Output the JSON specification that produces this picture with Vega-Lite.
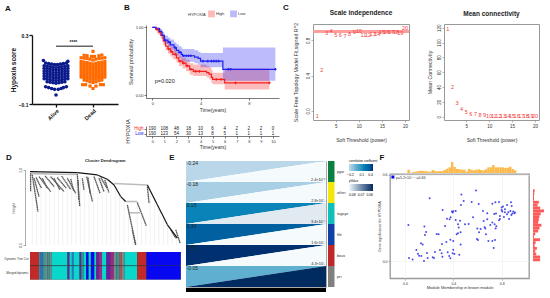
{"$schema":"https://vega.github.io/schema/vega-lite/v6.json","padding":0,"background":"white","bounds":"flush","spacing":0,"resolve":{"scale":{"color":"independent"},"legend":{"color":"independent"}},
"config":{"font":"Liberation Sans","view":{"stroke":null},"axis":{"grid":false,"labelFontSize":4.5,"titleFontSize":5,"titleFontWeight":"normal","tickSize":2,"tickWidth":0.6,"domainWidth":0.6,"labelPadding":1,"titlePadding":2,"labelColor":"#333","titleColor":"#333","labelOverlap":false,"labelFlush":false,"labelBound":false},"title":{"font":"Liberation Sans"}},
"datasets":{
"alive":[{"p":1.0,"s":-0.048},{"p":0.96,"s":-0.015},{"p":1.06,"s":-0.015},{"p":0.88,"s":-0.01},{"p":1.14,"s":-0.01},{"p":0.8,"s":-0.005},{"p":1.2,"s":-0.005},{"p":0.72,"s":0.0},{"p":1.28,"s":0.0},
{"p":0.76,"s":0.029},{"p":0.84,"s":0.026},{"p":0.92,"s":0.023},{"p":1.0,"s":0.02},{"p":1.08,"s":0.023},{"p":1.16,"s":0.026},{"p":1.24,"s":0.029},
{"p":0.68,"s":0.047},{"p":0.76,"s":0.044},{"p":0.84,"s":0.041},{"p":0.92,"s":0.038},{"p":1.0,"s":0.035},{"p":1.08,"s":0.038},{"p":1.16,"s":0.041},{"p":1.24,"s":0.044},{"p":1.32,"s":0.047},
{"p":0.68,"s":0.062},{"p":0.76,"s":0.059},{"p":0.84,"s":0.056},{"p":0.92,"s":0.053},{"p":1.0,"s":0.05},{"p":1.08,"s":0.053},{"p":1.16,"s":0.056},{"p":1.24,"s":0.059},{"p":1.32,"s":0.062},
{"p":0.68,"s":0.077},{"p":0.76,"s":0.074},{"p":0.84,"s":0.071},{"p":0.92,"s":0.068},{"p":1.0,"s":0.065},{"p":1.08,"s":0.068},{"p":1.16,"s":0.071},{"p":1.24,"s":0.074},{"p":1.32,"s":0.077},
{"p":0.68,"s":0.092},{"p":0.76,"s":0.089},{"p":0.84,"s":0.086},{"p":0.92,"s":0.083},{"p":1.0,"s":0.08},{"p":1.08,"s":0.083},{"p":1.16,"s":0.086},{"p":1.24,"s":0.089},{"p":1.32,"s":0.092},
{"p":0.68,"s":0.107},{"p":0.76,"s":0.104},{"p":0.84,"s":0.101},{"p":0.92,"s":0.098},{"p":1.0,"s":0.095},{"p":1.08,"s":0.098},{"p":1.16,"s":0.101},{"p":1.24,"s":0.104},{"p":1.32,"s":0.107},
{"p":0.68,"s":0.122},{"p":0.76,"s":0.119},{"p":0.84,"s":0.116},{"p":0.92,"s":0.113},{"p":1.0,"s":0.11},{"p":1.08,"s":0.113},{"p":1.16,"s":0.116},{"p":1.24,"s":0.119},{"p":1.32,"s":0.122},
{"p":0.72,"s":0.137},{"p":0.8,"s":0.134},{"p":0.88,"s":0.131},{"p":0.96,"s":0.128},{"p":1.04,"s":0.128},{"p":1.12,"s":0.131},{"p":1.2,"s":0.134},{"p":1.28,"s":0.137},{"p":1.32,"s":0.147},{"p":0.66,"s":0.152}],
"dead":[{"p":2.0,"s":-0.01},{"p":1.72,"s":0.012},{"p":1.8,"s":0.012},{"p":1.92,"s":0.004},{"p":2.08,"s":0.004},{"p":2.2,"s":0.012},{"p":2.28,"s":0.012},
{"p":1.76,"s":0.039},{"p":1.84,"s":0.035},{"p":1.92,"s":0.029},{"p":2.0,"s":0.025},{"p":2.08,"s":0.029},{"p":2.16,"s":0.035},{"p":2.24,"s":0.039},
{"p":1.68,"s":0.056},{"p":1.76,"s":0.053},{"p":1.84,"s":0.05},{"p":1.92,"s":0.046},{"p":2.0,"s":0.042},{"p":2.08,"s":0.046},{"p":2.16,"s":0.05},{"p":2.24,"s":0.053},{"p":2.32,"s":0.056},
{"p":1.68,"s":0.071},{"p":1.76,"s":0.068},{"p":1.84,"s":0.065},{"p":1.92,"s":0.061},{"p":2.0,"s":0.057},{"p":2.08,"s":0.061},{"p":2.16,"s":0.065},{"p":2.24,"s":0.068},{"p":2.32,"s":0.071},
{"p":1.68,"s":0.086},{"p":1.76,"s":0.083},{"p":1.84,"s":0.08},{"p":1.92,"s":0.076},{"p":2.0,"s":0.072},{"p":2.08,"s":0.076},{"p":2.16,"s":0.08},{"p":2.24,"s":0.083},{"p":2.32,"s":0.086},
{"p":1.68,"s":0.101},{"p":1.76,"s":0.098},{"p":1.84,"s":0.095},{"p":1.92,"s":0.091},{"p":2.0,"s":0.087},{"p":2.08,"s":0.091},{"p":2.16,"s":0.095},{"p":2.24,"s":0.098},{"p":2.32,"s":0.101},
{"p":1.68,"s":0.116},{"p":1.76,"s":0.113},{"p":1.84,"s":0.11},{"p":1.92,"s":0.106},{"p":2.0,"s":0.102},{"p":2.08,"s":0.106},{"p":2.16,"s":0.11},{"p":2.24,"s":0.113},{"p":2.32,"s":0.116},
{"p":1.68,"s":0.131},{"p":1.76,"s":0.128},{"p":1.84,"s":0.125},{"p":1.92,"s":0.121},{"p":2.0,"s":0.117},{"p":2.08,"s":0.121},{"p":2.16,"s":0.125},{"p":2.24,"s":0.128},{"p":2.32,"s":0.131},
{"p":1.68,"s":0.146},{"p":1.76,"s":0.143},{"p":1.84,"s":0.14},{"p":1.92,"s":0.136},{"p":2.0,"s":0.132},{"p":2.08,"s":0.136},{"p":2.16,"s":0.14},{"p":2.24,"s":0.143},{"p":2.32,"s":0.146},
{"p":1.68,"s":0.168},{"p":1.76,"s":0.166},{"p":1.84,"s":0.164},{"p":1.92,"s":0.16},{"p":2.0,"s":0.155},{"p":2.08,"s":0.16},{"p":2.16,"s":0.164},{"p":2.24,"s":0.166},{"p":2.32,"s":0.168},
{"p":1.76,"s":0.182},{"p":1.84,"s":0.18},{"p":2.16,"s":0.18},{"p":2.24,"s":0.184},{"p":1.96,"s":0.176},{"p":2.04,"s":0.176},{"p":2.0,"s":0.205}],
"surv":[{"g":"High","t":0,"s":1,"lo":1,"hi":1},{"g":"High","t":0.3,"s":0.97,"lo":0.95,"hi":1},{"g":"High","t":0.5,"s":0.93,"lo":0.89,"hi":0.97},{"g":"High","t":0.7,"s":0.88,"lo":0.83,"hi":0.93},{"g":"High","t":0.9,"s":0.8,"lo":0.74,"hi":0.87},{"g":"High","t":1.1,"s":0.72,"lo":0.66,"hi":0.8},{"g":"High","t":1.3,"s":0.68,"lo":0.61,"hi":0.76},{"g":"High","t":1.5,"s":0.64,"lo":0.57,"hi":0.72},{"g":"High","t":1.7,"s":0.6,"lo":0.53,"hi":0.68},{"g":"High","t":2,"s":0.55,"lo":0.48,"hi":0.63},{"g":"High","t":2.2,"s":0.5,"lo":0.43,"hi":0.58},{"g":"High","t":2.5,"s":0.47,"lo":0.39,"hi":0.55},{"g":"High","t":2.8,"s":0.43,"lo":0.35,"hi":0.52},{"g":"High","t":3.1,"s":0.38,"lo":0.3,"hi":0.47},{"g":"High","t":3.4,"s":0.35,"lo":0.28,"hi":0.45},{"g":"High","t":4.5,"s":0.33,"lo":0.26,"hi":0.43},{"g":"High","t":4.7,"s":0.31,"lo":0.23,"hi":0.41},{"g":"High","t":4.9,"s":0.26,"lo":0.18,"hi":0.37},{"g":"High","t":5,"s":0.23,"lo":0.16,"hi":0.33},{"g":"High","t":6,"s":0.18,"lo":0.08,"hi":0.39},{"g":"High","t":9.7,"s":0.18,"lo":0.08,"hi":0.39},
{"g":"Low","t":0,"s":1,"lo":1,"hi":1},{"g":"Low","t":0.3,"s":0.98,"lo":0.96,"hi":1},{"g":"Low","t":0.6,"s":0.94,"lo":0.91,"hi":0.98},{"g":"Low","t":0.8,"s":0.88,"lo":0.83,"hi":0.93},{"g":"Low","t":1,"s":0.81,"lo":0.75,"hi":0.88},{"g":"Low","t":1.3,"s":0.78,"lo":0.71,"hi":0.85},{"g":"Low","t":1.5,"s":0.74,"lo":0.67,"hi":0.82},{"g":"Low","t":1.8,"s":0.7,"lo":0.62,"hi":0.78},{"g":"Low","t":2,"s":0.66,"lo":0.58,"hi":0.75},{"g":"Low","t":2.2,"s":0.63,"lo":0.55,"hi":0.72},{"g":"Low","t":2.4,"s":0.6,"lo":0.51,"hi":0.7},{"g":"Low","t":2.5,"s":0.58,"lo":0.49,"hi":0.68},{"g":"Low","t":3.5,"s":0.56,"lo":0.47,"hi":0.66},{"g":"Low","t":3.8,"s":0.54,"lo":0.45,"hi":0.64},{"g":"Low","t":4,"s":0.5,"lo":0.41,"hi":0.62},{"g":"Low","t":5.85,"s":0.38,"lo":0.21,"hi":0.7},{"g":"Low","t":10.2,"s":0.38,"lo":0.21,"hi":0.7}],
"censor":[{"g":"High","t":0.4,"s":0.97},{"g":"High","t":1.35,"s":0.68},{"g":"High","t":1.6,"s":0.64},{"g":"High","t":1.9,"s":0.6},{"g":"High","t":2.3,"s":0.5},{"g":"High","t":2.6,"s":0.47},{"g":"High","t":2.9,"s":0.43},{"g":"High","t":3.2,"s":0.38},{"g":"High","t":3.6,"s":0.35},{"g":"High","t":3.9,"s":0.35},{"g":"High","t":5.3,"s":0.23},{"g":"High","t":5.7,"s":0.23},{"g":"High","t":6.9,"s":0.18},{"g":"High","t":9.7,"s":0.18},
{"g":"Low","t":1.05,"s":0.81},{"g":"Low","t":1.4,"s":0.78},{"g":"Low","t":1.9,"s":0.7},{"g":"Low","t":2.3,"s":0.63},{"g":"Low","t":2.6,"s":0.58},{"g":"Low","t":2.8,"s":0.58},{"g":"Low","t":3,"s":0.58},{"g":"Low","t":3.2,"s":0.58},{"g":"Low","t":4.2,"s":0.5},{"g":"Low","t":4.6,"s":0.5},{"g":"Low","t":4.9,"s":0.5},{"g":"Low","t":5.1,"s":0.5},{"g":"Low","t":5.3,"s":0.5},{"g":"Low","t":5.5,"s":0.5},{"g":"Low","t":6.3,"s":0.38},{"g":"Low","t":6.5,"s":0.38},{"g":"Low","t":10.2,"s":0.38}],
"risk":[{"g":"High","t":0,"n":190},{"g":"High","t":1,"n":108},{"g":"High","t":2,"n":48},{"g":"High","t":3,"n":18},{"g":"High","t":4,"n":10},{"g":"High","t":5,"n":6},{"g":"High","t":6,"n":4},{"g":"High","t":7,"n":2},{"g":"High","t":8,"n":2},{"g":"High","t":9,"n":2},{"g":"High","t":10,"n":0},
{"g":"Low","t":0,"n":190},{"g":"Low","t":1,"n":123},{"g":"Low","t":2,"n":54},{"g":"Low","t":3,"n":30},{"g":"Low","t":4,"n":13},{"g":"Low","t":5,"n":8},{"g":"Low","t":6,"n":5},{"g":"Low","t":7,"n":1},{"g":"Low","t":8,"n":1},{"g":"Low","t":9,"n":1},{"g":"Low","t":10,"n":1}],
"power":[{"k":"1","p":1,"r":-0.057,"c":118},{"k":"2","p":2,"r":0.46,"c":40},{"k":"3","p":3,"r":0.879,"c":18},{"k":"4","p":4,"r":0.906,"c":10},{"k":"5","p":5,"r":0.864,"c":6},{"k":"6","p":6,"r":0.86,"c":4},{"k":"7","p":7,"r":0.852,"c":3},{"k":"8","p":8,"r":0.87,"c":2.5},{"k":"9","p":9,"r":0.898,"c":2},{"k":"10","p":10,"r":0.902,"c":1.6},{"k":"11","p":11,"r":0.864,"c":1.3},{"k":"12","p":12,"r":0.856,"c":1.1},{"k":"13","p":13,"r":0.875,"c":0.9},{"k":"14","p":14,"r":0.875,"c":0.8},{"k":"15","p":15,"r":0.89,"c":0.7},{"k":"16","p":16,"r":0.897,"c":0.6},{"k":"17","p":17,"r":0.897,"c":0.5},{"k":"18","p":18,"r":0.89,"c":0.45},{"k":"19","p":19,"r":0.885,"c":0.4},{"k":"20","p":20,"r":0.943,"c":0.3}],
"dendro":[{"kind":"ridge","a":0,"b":31.4,"h":0.989,"h2":0.982},{"kind":"ridge","a":31.4,"b":44.7,"h":0.982,"h2":0.967},{"kind":"ridge","a":44.7,"b":51.3,"h":0.967,"h2":0.938},{"kind":"ridge","a":51.3,"b":55.8,"h":0.938,"h2":0.9},{"kind":"ridge","a":55.8,"b":60.2,"h":0.9,"h2":0.823},{"kind":"ridge","a":60.2,"b":63.5,"h":0.823,"h2":0.79},{"kind":"ridge","a":77.9,"b":84.5,"h":0.9,"h2":0.768},{"kind":"ridge","a":84.5,"b":91.2,"h":0.768,"h2":0.635},{"kind":"ridge","a":91.2,"b":97.8,"h":0.635,"h2":0.546},
{"kind":"band","a":0.5,"b":31,"h":0.976,"h2":0.97},{"kind":"band","a":55.8,"b":77.9,"h":0.91,"h2":0.9},{"kind":"band","a":63.5,"b":71.2,"h":0.79,"h2":0.79},{"kind":"band","a":66,"b":73,"h":0.715,"h2":0.715},
{"kind":"streak","a":0.4,"b":0.4,"h":0.978,"h2":0.856},{"kind":"streak","a":1.5,"b":5.3,"h":0.967,"h2":0.723},{"kind":"streak","a":2.7,"b":6,"h":0.945,"h2":0.823},{"kind":"streak","a":6,"b":13.7,"h":0.956,"h2":0.856},{"kind":"streak","a":8.2,"b":11.5,"h":0.945,"h2":0.878},{"kind":"streak","a":13.7,"b":22.6,"h":0.956,"h2":0.856},{"kind":"streak","a":15.9,"b":19.9,"h":0.945,"h2":0.867},{"kind":"streak","a":24.8,"b":30.3,"h":0.945,"h2":0.845},{"kind":"streak","a":31.4,"b":33,"h":0.973,"h2":0.757},{"kind":"streak","a":31.9,"b":32.3,"h":0.934,"h2":0.8},{"kind":"streak","a":34.7,"b":35.8,"h":0.945,"h2":0.867},{"kind":"streak","a":37.6,"b":41.4,"h":0.956,"h2":0.79},{"kind":"streak","a":42.5,"b":46.5,"h":0.956,"h2":0.845},{"kind":"streak","a":45.8,"b":49.1,"h":0.945,"h2":0.856},{"kind":"streak","a":49.6,"b":52.4,"h":0.934,"h2":0.85},{"kind":"streak","a":64.6,"b":70.1,"h":0.768,"h2":0.502},{"kind":"streak","a":67.9,"b":70.1,"h":0.602,"h2":0.502},{"kind":"streak","a":71.2,"b":77.2,"h":0.783,"h2":0.628},{"kind":"streak","a":77.9,"b":79,"h":0.889,"h2":0.779},{"kind":"streak","a":93.4,"b":96.7,"h":0.602,"h2":0.546},{"kind":"streak","a":96.7,"b":99.6,"h":0.602,"h2":0.513},
{"kind":"streak","a":4,"b":7.5,"h":0.95,"h2":0.88},{"kind":"streak","a":10,"b":16,"h":0.96,"h2":0.89},{"kind":"streak","a":18,"b":24,"h":0.95,"h2":0.88},{"kind":"streak","a":21,"b":27,"h":0.96,"h2":0.87},{"kind":"streak","a":27,"b":29,"h":0.94,"h2":0.86},{"kind":"streak","a":38.5,"b":40,"h":0.95,"h2":0.84},{"kind":"streak","a":47,"b":51,"h":0.95,"h2":0.88},
{"kind":"guide","a":1.5,"b":1.5,"h":0.5,"h2":0.96},{"kind":"guide","a":4.4,"b":4.4,"h":0.5,"h2":0.96},{"kind":"guide","a":7.3,"b":7.3,"h":0.5,"h2":0.96},{"kind":"guide","a":10.2,"b":10.2,"h":0.5,"h2":0.96},{"kind":"guide","a":13.1,"b":13.1,"h":0.5,"h2":0.96},{"kind":"guide","a":16,"b":16,"h":0.5,"h2":0.96},{"kind":"guide","a":18.9,"b":18.9,"h":0.5,"h2":0.96},{"kind":"guide","a":21.8,"b":21.8,"h":0.5,"h2":0.96},{"kind":"guide","a":24.7,"b":24.7,"h":0.5,"h2":0.96},{"kind":"guide","a":27.6,"b":27.6,"h":0.5,"h2":0.96},{"kind":"guide","a":30.5,"b":30.5,"h":0.5,"h2":0.96},{"kind":"guide","a":33.4,"b":33.4,"h":0.5,"h2":0.96},{"kind":"guide","a":36.3,"b":36.3,"h":0.5,"h2":0.96},{"kind":"guide","a":39.2,"b":39.2,"h":0.5,"h2":0.96},{"kind":"guide","a":42.1,"b":42.1,"h":0.5,"h2":0.96},{"kind":"guide","a":45,"b":45,"h":0.5,"h2":0.95},{"kind":"guide","a":47.9,"b":47.9,"h":0.5,"h2":0.94},{"kind":"guide","a":50.8,"b":50.8,"h":0.5,"h2":0.93},{"kind":"guide","a":53.7,"b":53.7,"h":0.5,"h2":0.91},{"kind":"guide","a":56.6,"b":56.6,"h":0.5,"h2":0.88},{"kind":"guide","a":59.5,"b":59.5,"h":0.5,"h2":0.83},{"kind":"guide","a":62.4,"b":62.4,"h":0.5,"h2":0.8},{"kind":"guide","a":65.3,"b":65.3,"h":0.5,"h2":0.74},{"kind":"guide","a":68.2,"b":68.2,"h":0.5,"h2":0.6},{"kind":"guide","a":71.1,"b":71.1,"h":0.5,"h2":0.78},{"kind":"guide","a":74,"b":74,"h":0.5,"h2":0.71},{"kind":"guide","a":76.9,"b":76.9,"h":0.5,"h2":0.63},{"kind":"guide","a":79.8,"b":79.8,"h":0.5,"h2":0.85},{"kind":"guide","a":82.7,"b":82.7,"h":0.5,"h2":0.8},{"kind":"guide","a":85.6,"b":85.6,"h":0.5,"h2":0.74},{"kind":"guide","a":88.5,"b":88.5,"h":0.5,"h2":0.69},{"kind":"guide","a":91.4,"b":91.4,"h":0.5,"h2":0.63},{"kind":"guide","a":94.3,"b":94.3,"h":0.5,"h2":0.6},{"kind":"guide","a":97.2,"b":97.2,"h":0.5,"h2":0.56}],
"modsegs":[{"a":0,"b":6,"m":"red"},{"a":6,"b":7.1,"m":"teal"},{"a":7.1,"b":8.4,"m":"steelblue"},{"a":8.4,"b":10,"m":"teal"},{"a":10,"b":11.5,"m":"grey"},{"a":11.5,"b":12.9,"m":"teal"},{"a":12.9,"b":14.4,"m":"grey"},{"a":14.4,"b":24.9,"m":"turquoise"},{"a":24.9,"b":26.2,"m":"purple"},{"a":26.2,"b":27.8,"m":"turquoise"},{"a":27.8,"b":28.9,"m":"steelblue"},{"a":28.9,"b":32.9,"m":"turquoise"},{"a":32.9,"b":34,"m":"purple"},{"a":34,"b":35.6,"m":"teal"},{"a":35.6,"b":37.3,"m":"turquoise"},{"a":37.3,"b":38.9,"m":"blue"},{"a":38.9,"b":40.4,"m":"turquoise"},{"a":40.4,"b":42.7,"m":"blue"},{"a":42.7,"b":44,"m":"turquoise"},{"a":44,"b":45.6,"m":"purple"},{"a":45.6,"b":47.8,"m":"plum"},{"a":47.8,"b":50.7,"m":"turquoise"},{"a":50.7,"b":53.3,"m":"purple"},{"a":53.3,"b":55.6,"m":"plum"},{"a":55.6,"b":57.3,"m":"grey"},{"a":57.3,"b":59.1,"m":"teal"},{"a":59.1,"b":60.7,"m":"rust"},{"a":60.7,"b":62.7,"m":"grey"},{"a":62.7,"b":71.1,"m":"turquoise"},{"a":71.1,"b":77.3,"m":"red"},{"a":77.3,"b":100,"m":"blue"}],
"eAreas":[{"row":0,"xp":0,"a":0,"b":1,"cor":-0.24},{"row":0,"xp":1,"a":0,"b":0,"cor":-0.24},{"row":1,"xp":0,"a":1,"b":2,"cor":-0.18},{"row":1,"xp":1,"a":1,"b":1,"cor":-0.18},{"row":2,"xp":0,"a":2,"b":3,"cor":0.15},{"row":2,"xp":1,"a":2,"b":2,"cor":0.15},{"row":3,"xp":0,"a":3,"b":4,"cor":0.3},{"row":3,"xp":1,"a":3,"b":3,"cor":0.3},{"row":4,"xp":0,"a":4,"b":5,"cor":0.4},{"row":4,"xp":1,"a":4,"b":4,"cor":0.4},{"row":5,"xp":0,"a":5,"b":6,"cor":-0.05},{"row":5,"xp":1,"a":5,"b":5,"cor":-0.05}],
"eLower":[{"row":0,"xp":0,"a":1,"b":1,"q":0.08},{"row":0,"xp":1,"a":0,"b":1,"q":0.08},{"row":1,"xp":0,"a":2,"b":2,"q":0.08},{"row":1,"xp":1,"a":1,"b":2,"q":0.08},{"row":2,"xp":0,"a":3,"b":3,"q":0.0785},{"row":2,"xp":1,"a":2,"b":3,"q":0.0785},{"row":3,"xp":0,"a":4,"b":4,"q":0.08},{"row":3,"xp":1,"a":3,"b":4,"q":0.08},{"row":4,"xp":0,"a":5,"b":5,"q":0.08},{"row":4,"xp":1,"a":4,"b":5,"q":0.08},{"row":5,"xp":0,"a":6,"b":6,"q":0.06},{"row":5,"xp":1,"a":5,"b":6,"q":0.06}],
"eLabels":[{"xl":0.005,"yl":0.1,"xr":0.995,"yr":0.9,"c":"-0.24","p":"2.4×10⁻⁸"},{"xl":0.005,"yl":1.1,"xr":0.995,"yr":1.9,"c":"-0.18","p":"2.8×10⁻³"},{"xl":0.005,"yl":2.1,"xr":0.995,"yr":2.9,"c":"0.15","p":"3.4×10⁻⁵"},{"xl":0.005,"yl":3.1,"xr":0.995,"yr":3.9,"c":"0.30","p":"1.6×10⁻³"},{"xl":0.005,"yl":4.1,"xr":0.995,"yr":4.9,"c":"0.40","p":"4.3×10⁻³"},{"xl":0.005,"yl":5.1,"xr":0.995,"yr":5.9,"c":"-0.05","p":"4.40"}],
"eMods":[{"m":"pgw"},{"m":"other"},{"m":"tagoye"},{"m":"file"},{"m":"bous"},{"m":"prr"}],
"scatter":[{"x":0.028,"y":0.252},{"x":0.204,"y":0.438},{"x":0.16,"y":0.241},{"x":0.174,"y":0.204},{"x":0.132,"y":0.125},{"x":0.146,"y":0.116},{"x":0.094,"y":0.079},{"x":0.107,"y":0.053},{"x":0.033,"y":0.023},{"x":0.063,"y":0.012},{"x":0.116,"y":0.039},{"x":0.135,"y":0.037},{"x":0.157,"y":0.002},{"x":0.182,"y":0.058},{"x":0.187,"y":0.023},{"x":0.229,"y":0.028},{"x":0.24,"y":0.023},{"x":0.248,"y":0.065},{"x":0.262,"y":0.19},{"x":0.278,"y":0.188},{"x":0.306,"y":0.12},{"x":0.289,"y":0.079},{"x":0.303,"y":0.056},{"x":0.309,"y":0.032},{"x":0.342,"y":0.134},{"x":0.375,"y":0.15},{"x":0.353,"y":0.063},{"x":0.366,"y":0.037},{"x":0.375,"y":0.021},{"x":0.399,"y":0.081},{"x":0.399,"y":0.141},{"x":0.394,"y":0.056},{"x":0.408,"y":0.051},{"x":0.449,"y":0.046},{"x":0.46,"y":0.116},{"x":0.427,"y":0.188},{"x":0.438,"y":0.194},{"x":0.331,"y":0.245},{"x":0.347,"y":0.296},{"x":0.369,"y":0.292},{"x":0.311,"y":0.356},{"x":0.388,"y":0.345},{"x":0.399,"y":0.347},{"x":0.419,"y":0.35},{"x":0.377,"y":0.306},{"x":0.419,"y":0.287},{"x":0.438,"y":0.257},{"x":0.444,"y":0.234},{"x":0.455,"y":0.282},{"x":0.463,"y":0.391},{"x":0.466,"y":0.463},{"x":0.485,"y":0.419},{"x":0.496,"y":0.257},{"x":0.526,"y":0.259},{"x":0.562,"y":0.306},{"x":0.551,"y":0.412},{"x":0.587,"y":0.491},{"x":0.609,"y":0.398},{"x":0.645,"y":0.35},{"x":0.598,"y":0.227},{"x":0.595,"y":0.155},{"x":0.603,"y":0.148},{"x":0.612,"y":0.201},{"x":0.625,"y":0.225},{"x":0.658,"y":0.236},{"x":0.65,"y":0.28},{"x":0.68,"y":0.333},{"x":0.68,"y":0.292},{"x":0.722,"y":0.4},{"x":0.747,"y":0.41},{"x":0.777,"y":0.412},{"x":0.752,"y":0.331},{"x":0.738,"y":0.329},{"x":0.722,"y":0.269},{"x":0.741,"y":0.257},{"x":0.755,"y":0.243},{"x":0.749,"y":0.227},{"x":0.785,"y":0.294},{"x":0.777,"y":0.285},{"x":0.799,"y":0.373},{"x":0.81,"y":0.38},{"x":0.804,"y":0.345},{"x":0.785,"y":0.315},{"x":0.818,"y":0.308},{"x":0.826,"y":0.34},{"x":0.843,"y":0.326},{"x":0.854,"y":0.34},{"x":0.876,"y":0.41},{"x":0.882,"y":0.384},{"x":0.871,"y":0.35},{"x":0.895,"y":0.345},{"x":0.909,"y":0.338},{"x":0.904,"y":0.333},{"x":0.887,"y":0.331},{"x":0.879,"y":0.322},{"x":0.86,"y":0.294},{"x":0.826,"y":0.361},{"x":0.799,"y":0.356},{"x":0.843,"y":0.391},{"x":0.733,"y":0.093},{"x":0.744,"y":0.148},{"x":0.722,"y":0.141},{"x":0.689,"y":0.141},{"x":0.664,"y":0.227},{"x":0.705,"y":0.252},{"x":0.669,"y":0.188},{"x":0.46,"y":0.201},{"x":0.394,"y":0.338},{"x":0.165,"y":0.183}],
"histX":[{"a":0.02,"b":0.04,"n":10},{"a":0.04,"b":0.06,"n":1},{"a":0.06,"b":0.08,"n":3},{"a":0.08,"b":0.1,"n":4},{"a":0.1,"b":0.12,"n":6},{"a":0.12,"b":0.14,"n":7},{"a":0.14,"b":0.16,"n":6},{"a":0.16,"b":0.18,"n":6},{"a":0.18,"b":0.2,"n":4},{"a":0.2,"b":0.22,"n":4},{"a":0.22,"b":0.24,"n":9},{"a":0.24,"b":0.26,"n":6},{"a":0.26,"b":0.28,"n":5},{"a":0.28,"b":0.3,"n":6},{"a":0.3,"b":0.32,"n":6},{"a":0.32,"b":0.34,"n":9},{"a":0.34,"b":0.36,"n":13},{"a":0.36,"b":0.38,"n":17},{"a":0.38,"b":0.4,"n":33},{"a":0.4,"b":0.42,"n":18},{"a":0.42,"b":0.44,"n":12},{"a":0.44,"b":0.46,"n":12},{"a":0.46,"b":0.48,"n":10},{"a":0.48,"b":0.5,"n":10},{"a":0.5,"b":0.52,"n":4},{"a":0.52,"b":0.54,"n":12},{"a":0.54,"b":0.56,"n":10},{"a":0.56,"b":0.58,"n":8},{"a":0.58,"b":0.6,"n":10},{"a":0.6,"b":0.62,"n":11},{"a":0.62,"b":0.64,"n":9},{"a":0.64,"b":0.66,"n":8},{"a":0.66,"b":0.68,"n":11},{"a":0.68,"b":0.7,"n":17},{"a":0.7,"b":0.72,"n":17},{"a":0.72,"b":0.74,"n":24},{"a":0.74,"b":0.76,"n":17},{"a":0.76,"b":0.78,"n":17},{"a":0.78,"b":0.8,"n":17},{"a":0.8,"b":0.82,"n":17},{"a":0.82,"b":0.84,"n":15},{"a":0.84,"b":0.86,"n":16},{"a":0.86,"b":0.88,"n":19},{"a":0.88,"b":0.9,"n":12},{"a":0.9,"b":0.92,"n":8}],
"histY":[{"a":0,"b":0.02,"n":22},{"a":0.02,"b":0.04,"n":22},{"a":0.04,"b":0.06,"n":10},{"a":0.06,"b":0.08,"n":7},{"a":0.08,"b":0.1,"n":12},{"a":0.1,"b":0.12,"n":5},{"a":0.12,"b":0.14,"n":8},{"a":0.14,"b":0.16,"n":22},{"a":0.16,"b":0.18,"n":3},{"a":0.18,"b":0.2,"n":7},{"a":0.2,"b":0.22,"n":16},{"a":0.22,"b":0.24,"n":20},{"a":0.24,"b":0.26,"n":26},{"a":0.26,"b":0.28,"n":16},{"a":0.28,"b":0.3,"n":18},{"a":0.3,"b":0.32,"n":20},{"a":0.32,"b":0.34,"n":24},{"a":0.34,"b":0.36,"n":34},{"a":0.36,"b":0.38,"n":22},{"a":0.38,"b":0.4,"n":14},{"a":0.4,"b":0.42,"n":18},{"a":0.42,"b":0.44,"n":3},{"a":0.44,"b":0.46,"n":3},{"a":0.46,"b":0.48,"n":4},{"a":0.48,"b":0.5,"n":5}]
},
"hconcat":[
{"bounds":"flush","spacing":0,"vconcat":[{"width":1,"height":4,"data":{"values":[]},"mark":"point","encoding":{}},{"bounds":"flush","spacing":0,"hconcat":[{"width":3,"height":1,"data":{"values":[]},"mark":"point","encoding":{}},{"width":10,"height":10,"data":{"values":[{"l":"A"}]},"mark":{"type":"text","fontWeight":"bold","fontSize":8,"color":"#111"},"encoding":{"text":{"field":"l"}}}]}]},
{"bounds":"flush","spacing":0,"vconcat":[{"width":1,"height":3,"data":{"values":[]},"mark":"point","encoding":{}},{"bounds":"flush","spacing":0,"hconcat":[{"width":122,"height":1,"data":{"values":[]},"mark":"point","encoding":{}},{"width":10,"height":10,"data":{"values":[{"l":"B"}]},"mark":{"type":"text","fontWeight":"bold","fontSize":8,"color":"#111"},"encoding":{"text":{"field":"l"}}}]}]},
{"bounds":"flush","spacing":0,"vconcat":[{"width":1,"height":3,"data":{"values":[]},"mark":"point","encoding":{}},{"bounds":"flush","spacing":0,"hconcat":[{"width":281,"height":1,"data":{"values":[]},"mark":"point","encoding":{}},{"width":10,"height":10,"data":{"values":[{"l":"C"}]},"mark":{"type":"text","fontWeight":"bold","fontSize":8,"color":"#111"},"encoding":{"text":{"field":"l"}}}]}]},
{"bounds":"flush","spacing":0,"vconcat":[{"width":1,"height":153,"data":{"values":[]},"mark":"point","encoding":{}},{"bounds":"flush","spacing":0,"hconcat":[{"width":4,"height":1,"data":{"values":[]},"mark":"point","encoding":{}},{"width":10,"height":10,"data":{"values":[{"l":"D"}]},"mark":{"type":"text","fontWeight":"bold","fontSize":8,"color":"#111"},"encoding":{"text":{"field":"l"}}}]}]},
{"bounds":"flush","spacing":0,"vconcat":[{"width":1,"height":153,"data":{"values":[]},"mark":"point","encoding":{}},{"bounds":"flush","spacing":0,"hconcat":[{"width":167,"height":1,"data":{"values":[]},"mark":"point","encoding":{}},{"width":10,"height":10,"data":{"values":[{"l":"E"}]},"mark":{"type":"text","fontWeight":"bold","fontSize":8,"color":"#111"},"encoding":{"text":{"field":"l"}}}]}]},
{"bounds":"flush","spacing":0,"vconcat":[{"width":1,"height":153,"data":{"values":[]},"mark":"point","encoding":{}},{"bounds":"flush","spacing":0,"hconcat":[{"width":377,"height":1,"data":{"values":[]},"mark":"point","encoding":{}},{"width":10,"height":10,"data":{"values":[{"l":"F"}]},"mark":{"type":"text","fontWeight":"bold","fontSize":8,"color":"#111"},"encoding":{"text":{"field":"l"}}}]}]},

{"bounds":"flush","spacing":0,"vconcat":[{"width":1,"height":35,"data":{"values":[]},"mark":"point","encoding":{}},{"bounds":"flush","spacing":0,"hconcat":[{"width":32,"height":1,"data":{"values":[]},"mark":"point","encoding":{}},
{"width":86,"height":69,"layer":[
{"data":{"name":"alive"},"mark":{"type":"point","shape":"circle","filled":true,"size":13,"opacity":1,"color":"#0b1a8c"},"encoding":{"x":{"field":"p","type":"quantitative","scale":{"domain":[0.351,2.676],"nice":false},"axis":{"values":[1,2],"labelExpr":"datum.value==1?'Alive':'Dead'","labelAngle":-45,"labelAlign":"right","labelFontWeight":"bold","labelFontSize":5.5,"labelColor":"#111","title":null,"domainColor":"#111","tickColor":"#111","domainWidth":1.3,"tickWidth":1.3,"tickSize":3}},"y":{"field":"s","type":"quantitative","scale":{"domain":[-0.1,0.3],"nice":false},"axis":{"values":[-0.1,0,0.1,0.2,0.3],"format":".1f","labelFontWeight":"bold","labelFontSize":5,"labelColor":"#111","title":"Hypoxia score","titleFontWeight":"bold","titleFontSize":6.5,"titleColor":"#111","domainColor":"#111","tickColor":"#111","domainWidth":1.3,"tickWidth":1.3,"tickSize":3}}}},
{"data":{"name":"dead"},"mark":{"type":"point","shape":"square","filled":true,"size":10,"opacity":1,"color":"#ff6a00"},"encoding":{"x":{"field":"p","type":"quantitative"},"y":{"field":"s","type":"quantitative"}}},
{"data":{"values":[{"a":1.0,"b":2.0,"s":0.235}]},"mark":{"type":"rule","color":"#666","strokeWidth":1.4},"encoding":{"x":{"field":"a","type":"quantitative"},"x2":{"field":"b"},"y":{"field":"s","type":"quantitative"}}},
{"data":{"values":[{"a":1.47,"s":0.26,"t":"****"}]},"mark":{"type":"text","fontSize":5,"fontWeight":"bold","color":"#222"},"encoding":{"x":{"field":"a","type":"quantitative"},"y":{"field":"s","type":"quantitative"},"text":{"field":"t"}}}
]}]}]},

{"bounds":"flush","spacing":0,"vconcat":[{"width":1,"height":25,"data":{"values":[]},"mark":"point","encoding":{}},{"bounds":"flush","spacing":0,"hconcat":[{"width":146,"height":1,"data":{"values":[]},"mark":"point","encoding":{}},
{"width":133,"height":73,"layer":[
{"data":{"name":"surv"},"mark":{"type":"area","interpolate":"step-after","opacity":0.3},"encoding":{"x":{"field":"t","type":"quantitative","scale":{"domain":[-0.52,10.5],"nice":false},"axis":{"values":[0,1,2,3,4,5,6,7,8,9,10],"labelOverlap":false,"labelFontSize":4,"title":"Time(years)","domainColor":"#222","tickColor":"#222"}},"y":{"field":"lo","type":"quantitative","scale":{"domain":[-0.044,1.034],"nice":false},"axis":{"values":[0,0.25,0.5,0.75,1],"format":".2f","labelOverlap":false,"labelFontSize":4,"title":"Survival probability","titleFontSize":5.5,"domainColor":"#222","tickColor":"#222"}},"y2":{"field":"hi"},"color":{"field":"g","type":"nominal","scale":{"domain":["High","Low"],"range":["#f52020","#2020f0"]},"legend":{"orient":"none","legendX":188,"legendY":10,"direction":"horizontal","title":"HYPOXIA","titleOrient":"left","titleFontSize":4,"titleFontWeight":"normal","titlePadding":2,"labelFontSize":4,"labelOffset":1,"symbolType":"square","symbolSize":28,"columns":2,"columnPadding":2,"padding":0,"titleColor":"#333","labelColor":"#333"}}}},
{"data":{"name":"surv"},"mark":{"type":"line","interpolate":"step-after","strokeWidth":1.2},"encoding":{"x":{"field":"t","type":"quantitative"},"y":{"field":"s","type":"quantitative"},"color":{"field":"g","type":"nominal"}}},
{"data":{"name":"censor"},"mark":{"type":"point","shape":"cross","filled":true,"size":7,"opacity":1},"encoding":{"x":{"field":"t","type":"quantitative"},"y":{"field":"s","type":"quantitative"},"color":{"field":"g","type":"nominal"}}},
{"data":{"values":[{"t":0.2,"s":0.21,"l":"p=0.020"}]},"mark":{"type":"text","align":"left","fontSize":5.5,"color":"#222"},"encoding":{"x":{"field":"t","type":"quantitative"},"y":{"field":"s","type":"quantitative"},"text":{"field":"l"}}}
]}]}]},

{"bounds":"flush","spacing":0,"vconcat":[{"width":1,"height":125.7,"data":{"values":[]},"mark":"point","encoding":{}},{"bounds":"flush","spacing":0,"hconcat":[{"width":146,"height":1,"data":{"values":[]},"mark":"point","encoding":{}},
{"width":133,"height":10,"data":{"name":"risk"},"mark":{"type":"text","fontSize":4.5,"color":"#222"},"encoding":{"x":{"field":"t","type":"quantitative","scale":{"domain":[-0.52,10.5],"nice":false},"axis":{"values":[0,1,2,3,4,5,6,7,8,9,10],"labelFontSize":4,"title":"Time(years)","titlePadding":1,"domainColor":"#222","tickColor":"#222"}},"y":{"field":"g","type":"nominal","sort":["High","Low"],"axis":{"title":"HYPOXIA","titleFontSize":5.5,"titlePadding":3,"labelFontSize":4.5,"labelColor":{"expr":"datum.value=='High'?'#f02020':'#2020f0'"},"domainColor":"#222","tickColor":"#222"}},"text":{"field":"n","type":"quantitative"}}}]}]},

{"bounds":"flush","spacing":0,"vconcat":[{"width":1,"height":24,"data":{"values":[]},"mark":"point","encoding":{}},{"bounds":"flush","spacing":0,"hconcat":[{"width":313,"height":1,"data":{"values":[]},"mark":"point","encoding":{}},
{"width":96,"height":96,"view":{"stroke":"#999"},"title":{"text":"Scale independence","fontSize":6.5,"fontWeight":"bold","offset":6,"color":"#222"},"data":{"name":"power"},"layer":[
{"mark":{"type":"rule","color":"#ff9d9d","strokeWidth":1.8},"encoding":{"y":{"datum":0.9,"type":"quantitative"}}},
{"mark":{"type":"text","fontSize":5.5,"color":"#f04040"},"encoding":{"x":{"field":"p","type":"quantitative","scale":{"domain":[0.09,20.87],"nice":false},"axis":{"values":[5,10,15,20],"title":"Soft Threshold (power)","titlePadding":10,"domain":false,"tickColor":"#888"}},"y":{"field":"r","type":"quantitative","scale":{"domain":[-0.102,0.985],"nice":false},"axis":{"values":[0,0.2,0.4,0.6,0.8],"format":".1f","labelAngle":-90,"labelAlign":"center","labelBaseline":"bottom","title":"Scale Free Topology Model Fit,signed R^2","titleFontSize":5.3,"titlePadding":7,"domain":false,"tickColor":"#888"}},"text":{"field":"k"}}}
]}]}]},

{"bounds":"flush","spacing":0,"vconcat":[{"width":1,"height":24,"data":{"values":[]},"mark":"point","encoding":{}},{"bounds":"flush","spacing":0,"hconcat":[{"width":444,"height":1,"data":{"values":[]},"mark":"point","encoding":{}},
{"width":95,"height":96,"view":{"stroke":"#999"},"title":{"text":"Mean connectivity","fontSize":6.5,"fontWeight":"bold","offset":6,"color":"#222"},"data":{"name":"power"},"mark":{"type":"text","fontSize":5.5,"color":"#f04040"},"encoding":{"x":{"field":"p","type":"quantitative","scale":{"domain":[0.15,20.87],"nice":false},"axis":{"values":[5,10,15,20],"title":"Soft Threshold (power)","titlePadding":10,"domain":false,"tickColor":"#888"}},"y":{"field":"c","type":"quantitative","scale":{"domain":[-4.45,125],"nice":false},"axis":{"values":[0,20,40,60,80,100,120],"labelAngle":-90,"labelAlign":"center","labelBaseline":"bottom","title":"Mean Connectivity","titleFontSize":5.3,"titlePadding":4,"domain":false,"tickColor":"#888"}},"text":{"field":"k"}}}]}]},

{"bounds":"flush","spacing":0,"vconcat":[{"width":1,"height":170,"data":{"values":[]},"mark":"point","encoding":{}},{"bounds":"flush","spacing":0,"hconcat":[{"width":29.3,"height":1,"data":{"values":[]},"mark":"point","encoding":{}},
{"width":150.7,"height":75.5,"title":{"text":"Cluster Dendrogram","fontSize":4.2,"fontWeight":"bold","offset":4,"color":"#222"},"data":{"name":"dendro"},"layer":[
{"transform":[{"filter":"datum.kind=='guide'"}],"mark":{"type":"rule","color":"#e2e2e2","strokeWidth":0.5},"encoding":{"x":{"field":"a","type":"quantitative","scale":{"domain":[0,100],"nice":false},"axis":null},"x2":{"field":"b"},"y":{"field":"h","type":"quantitative","scale":{"domain":[0.497,1],"nice":false},"axis":{"values":[0.5,0.6,0.7,0.8,0.9,1],"format":".1f","labelOverlap":false,"labelAngle":-90,"labelAlign":"center","labelBaseline":"bottom","labelFontSize":3.6,"title":"Height","titleFontSize":3.6,"titlePadding":3,"offset":5,"domain":true,"domainColor":"#777","tickColor":"#777"}},"y2":{"field":"h2"}}},
{"transform":[{"filter":"datum.kind=='band'"}],"mark":{"type":"rule","color":"#bdbdbd","strokeWidth":1.6},"encoding":{"x":{"field":"a","type":"quantitative"},"x2":{"field":"b"},"y":{"field":"h","type":"quantitative"},"y2":{"field":"h2"}}},
{"transform":[{"filter":"datum.kind=='streak'"}],"mark":{"type":"rule","color":"#555","strokeWidth":1.3,"strokeDash":[1.5,0.3]},"encoding":{"x":{"field":"a","type":"quantitative"},"x2":{"field":"b"},"y":{"field":"h","type":"quantitative"},"y2":{"field":"h2"}}},
{"transform":[{"filter":"datum.kind=='ridge'"}],"mark":{"type":"rule","color":"#151515","strokeWidth":1.2},"encoding":{"x":{"field":"a","type":"quantitative"},"x2":{"field":"b"},"y":{"field":"h","type":"quantitative"},"y2":{"field":"h2"}}}
]}]}]},

{"bounds":"flush","spacing":0,"vconcat":[{"width":1,"height":251.7,"data":{"values":[]},"mark":"point","encoding":{}},{"bounds":"flush","spacing":0,"hconcat":[{"width":29.3,"height":1,"data":{"values":[]},"mark":"point","encoding":{}},
{"width":150.7,"height":27.5,"view":{"fill":"#333"},"data":{"name":"modsegs"},"layer":[
{"mark":"rect","encoding":{"x":{"field":"a","type":"quantitative","scale":{"domain":[0,100],"nice":false},"axis":null},"x2":{"field":"b"},"y":{"datum":"Dynamic Tree Cut","type":"nominal","scale":{"domain":["Dynamic Tree Cut","Merged dynamic"],"paddingInner":0.05,"paddingOuter":0},"axis":{"title":null,"ticks":false,"domain":false,"labelFontSize":3,"labelPadding":2}},"color":{"field":"m","type":"nominal","legend":null,"scale":{"domain":["red","teal","steelblue","grey","turquoise","purple","blue","plum","rust"],"range":["#c22a2a","#2a9a9a","#3a6ad8","#7a8a88","#08d8cc","#6a1fa0","#0808f0","#9a2a8a","#b05050"]}}}},
{"mark":"rect","encoding":{"x":{"field":"a","type":"quantitative"},"x2":{"field":"b"},"y":{"datum":"Merged dynamic","type":"nominal"},"color":{"field":"m","type":"nominal","legend":null}}}
]}]}]},

{"bounds":"flush","spacing":0,"vconcat":[{"width":1,"height":161,"data":{"values":[]},"mark":"point","encoding":{}},{"bounds":"flush","spacing":0,"hconcat":[{"width":186,"height":1,"data":{"values":[]},"mark":"point","encoding":{}},
{"width":140,"height":126,"view":{"stroke":"#aaa"},"resolve":{"scale":{"color":"independent"}},"layer":[
{"data":{"name":"eAreas"},"mark":{"type":"area"},"encoding":{"x":{"field":"xp","type":"quantitative","scale":{"domain":[0,1],"nice":false},"axis":null},"y":{"field":"a","type":"quantitative","scale":{"domain":[0,6],"reverse":true,"nice":false},"axis":null},"y2":{"field":"b"},"detail":{"field":"row"},"color":{"field":"cor","type":"quantitative","scale":{"domain":[-0.24,-0.18,-0.05,0.15,0.3,0.4],"range":["#bad7e9","#a8cfe4","#5fb0d0","#0a84b8","#0060a0","#003070"]},"legend":{"orient":"none","legendX":163,"legendY":-1,"direction":"horizontal","gradientLength":24,"gradientThickness":7,"title":"correlation coefficient","titleFontSize":3,"titleFontWeight":"normal","titlePadding":1,"labelFontSize":3.4,"values":[-0.2,0.1,0.4],"format":".1f"}}}},
{"data":{"name":"eLower"},"mark":{"type":"area"},"encoding":{"x":{"field":"xp","type":"quantitative"},"y":{"field":"a","type":"quantitative"},"y2":{"field":"b"},"detail":{"field":"row"},"color":{"field":"q","type":"quantitative","scale":{"domain":[0.08,0.06],"range":["#f5fafd","#002b60"]},"legend":{"orient":"none","legendX":163,"legendY":19,"direction":"horizontal","gradientLength":24,"gradientThickness":7,"title":"pValue","titleFontSize":3,"titleFontWeight":"normal","titlePadding":1,"labelFontSize":3.4,"values":[0.08,0.07,0.06],"format":".2f"}}}},
{"data":{"name":"eLabels"},"mark":{"type":"text","align":"left","fontSize":5,"color":"#222"},"encoding":{"x":{"field":"xl","type":"quantitative"},"y":{"field":"yl","type":"quantitative"},"text":{"field":"c"}}},
{"data":{"name":"eLabels"},"mark":{"type":"text","align":"right","fontSize":3.8,"color":"#222"},"encoding":{"x":{"field":"xr","type":"quantitative"},"y":{"field":"yr","type":"quantitative"},"text":{"field":"p"}}}
]}]}]},

{"bounds":"flush","spacing":0,"vconcat":[{"width":1,"height":161,"data":{"values":[]},"mark":"point","encoding":{}},{"bounds":"flush","spacing":0,"hconcat":[{"width":327.5,"height":1,"data":{"values":[]},"mark":"point","encoding":{}},
{"width":6.5,"height":126,"data":{"name":"eMods"},"mark":"rect","encoding":{"y":{"field":"m","type":"nominal","sort":null,"axis":{"orient":"right","title":null,"ticks":false,"domain":false,"labelFontSize":3.8,"labelPadding":2}},"color":{"field":"m","type":"nominal","legend":null,"scale":{"domain":["pgw","other","tagoye","file","bous","prr"],"range":["#0b8040","#f2e60d","#10c0b8","#1040a8","#c02828","#808080"]}}}}]}]},

{"bounds":"flush","spacing":0,"vconcat":[{"width":1,"height":288,"data":{"values":[]},"mark":"point","encoding":{}},{"bounds":"flush","spacing":0,"hconcat":[{"width":186,"height":1,"data":{"values":[]},"mark":"point","encoding":{}},
{"width":140,"height":4,"data":{"values":[{"a":0,"b":1}]},"mark":{"type":"rect","color":"#000"},"encoding":{"x":{"field":"a","type":"quantitative","scale":{"domain":[0,1],"nice":false},"axis":null},"x2":{"field":"b"}}}]}]},

{"bounds":"flush","spacing":0,"vconcat":[{"width":1,"height":174,"data":{"values":[]},"mark":"point","encoding":{}},{"bounds":"flush","spacing":0,"hconcat":[{"width":390,"height":1,"data":{"values":[]},"mark":"point","encoding":{}},
{"width":139,"height":104.3,"view":{"stroke":"#999","strokeWidth":1.3},"layer":[
{"data":{"name":"scatter"},"mark":{"type":"point","shape":"circle","filled":true,"size":4,"opacity":0.85,"color":"#2b2be8"},"encoding":{"x":{"field":"x","type":"quantitative","scale":{"domain":[-0.124,1.025],"nice":false},"axis":{"values":[0,0.2,0.4,0.6,0.8,1],"format":".1f","labelOverlap":false,"grid":true,"gridColor":"#eee","gridWidth":0.6,"labelFontSize":3.5,"title":"Module Membership in brown module","titleFontSize":4,"titlePadding":1,"domain":false,"tickColor":"#888"}},"y":{"field":"y","type":"quantitative","scale":{"domain":[-0.118,0.606],"nice":false},"axis":{"values":[0,0.2,0.4,0.6],"format":".1f","labelOverlap":false,"grid":true,"gridColor":"#eee","gridWidth":0.6,"labelFontSize":3.5,"title":"Gene significance for HYPOXIA","titleFontSize":3.6,"titlePadding":1,"domain":false,"tickColor":"#888"}}}},
{"data":{"values":[{"x":-0.1,"y":0.585}]},"mark":{"type":"point","shape":"square","filled":true,"size":9,"opacity":1,"color":"#0000f0"},"encoding":{"x":{"field":"x","type":"quantitative"},"y":{"field":"y","type":"quantitative"}}},
{"data":{"values":[{"x":-0.075,"y":0.58,"t":"p=5.2×10⁻¹⁷ ʳ=0.66"}]},"mark":{"type":"text","align":"left","fontSize":3.6,"color":"#333"},"encoding":{"x":{"field":"x","type":"quantitative"},"y":{"field":"y","type":"quantitative"},"text":{"field":"t"}}}
]}]}]},

{"bounds":"flush","spacing":0,"vconcat":[{"width":1,"height":162,"data":{"values":[]},"mark":"point","encoding":{}},{"bounds":"flush","spacing":0,"hconcat":[{"width":390,"height":1,"data":{"values":[]},"mark":"point","encoding":{}},
{"width":139,"height":11,"data":{"name":"histX"},"mark":{"type":"rect","color":"#fdb94a"},"encoding":{"x":{"field":"a","type":"quantitative","scale":{"domain":[-0.124,1.025],"nice":false},"axis":null},"x2":{"field":"b"},"y":{"field":"n","type":"quantitative","scale":{"domain":[0,33],"nice":false},"axis":null},"y2":{"datum":0}}}]}]},

{"bounds":"flush","spacing":0,"vconcat":[{"width":1,"height":174,"data":{"values":[]},"mark":"point","encoding":{}},{"bounds":"flush","spacing":0,"hconcat":[{"width":533,"height":1,"data":{"values":[]},"mark":"point","encoding":{}},
{"width":11,"height":104.3,"data":{"name":"histY"},"mark":{"type":"rect","color":"#ff5a5a"},"encoding":{"y":{"field":"a","type":"quantitative","scale":{"domain":[-0.118,0.606],"nice":false},"axis":null},"y2":{"field":"b"},"x":{"field":"n","type":"quantitative","scale":{"domain":[0,34],"nice":false},"axis":null},"x2":{"datum":0}}}]}]}
]}
